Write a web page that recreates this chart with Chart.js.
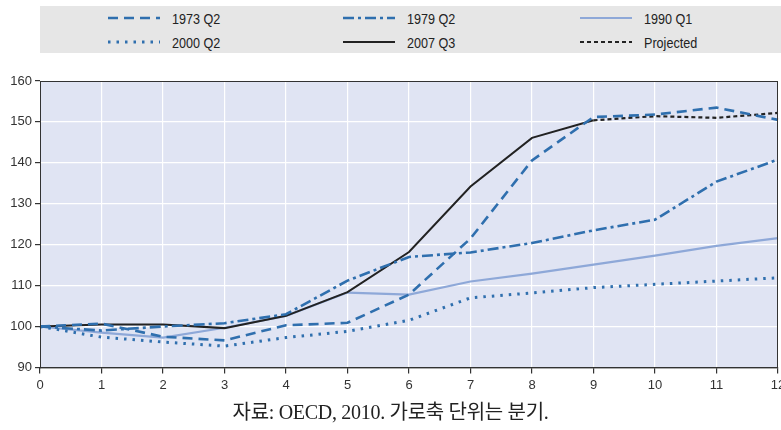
<!DOCTYPE html>
<html>
<head>
<meta charset="utf-8">
<script src="https://cdn.jsdelivr.net/npm/chart.js@4"></script>
<style>
  html, body { margin: 0; padding: 0; background: #fff; }
  #wrap { position: relative; width: 781px; height: 430px; }
  #chart { position: absolute; left: 0; top: 0; }
  #legend {
    position: absolute; left: 40px; top: 6px; width: 741px; height: 47px;
    background: #e6e6e6;
    font-family: "Liberation Sans", sans-serif;
    font-size: 15px; color: #222;
  }
  .item { position: absolute; display: flex; align-items: center; height: 18px; }
  .item svg { margin-right: 12px; }
  .item span { display: inline-block; transform: scaleX(0.84); transform-origin: left center; white-space: nowrap; }
  #caption {
    position: absolute; left: 0; width: 781px; top: 396px; text-align: center;
    font-family: "Liberation Serif", "Noto Sans CJK KR", serif;
    font-size: 20px; color: #222; letter-spacing: -0.3px;
  }
</style>
</head>
<body>
<div id="wrap">
  <canvas id="chart" width="781" height="430"></canvas>
  <div id="legend"></div>
  <div id="caption">자료: OECD, 2010. 가로축 단위는 분기.</div>
</div>
<script>
// quarters after the start of the recession
const quarters = ['0', '1', '2', '3', '4', '5', '6', '7', '8', '9', '10', '11', '12'];
const yTicks = [90, 100, 110, 120, 130, 140, 150, 160];

const s1973 = [100, 100.7, 97.5, 96.6, 100.3, 100.9, 107.8, 121.5, 140.6, 151.2, 151.8, 153.5, 150.5];
const s1979 = [100, 99, 100, 100.8, 103, 111.2, 117, 118.1, 120.4, 123.5, 126.1, 135.4, 140.8];
const s1990 = [100, 98.5, 97.3, 99.7, 102.6, 108.3, 107.8, 111, 112.9, 115.1, 117.3, 119.7, 121.6];
const s2000 = [100, 97.4, 96.2, 95.2, 97.3, 98.8, 101.5, 107, 108.2, 109.5, 110.3, 111.1, 111.9];
const s2007 = [100, 100.5, 100.5, 99.6, 102.6, 108.4, 118.2, 134.2, 146.1, 150.4, null, null, null];
const projected = [null, null, null, null, null, null, null, null, null, 150.4, 151.4, 151, 152.2];

const seriesNames = ['1973 Q2', '1979 Q2', '1990 Q1', '2000 Q2', '2007 Q3', 'Projected'];

const BLUE = '#2f6fae';
const styles = [
  { color: BLUE, width: 2.6, dash: [10, 6] },
  { color: BLUE, width: 2.6, dash: [11, 4, 3, 4] },
  { color: '#8ea8d8', width: 2.2, dash: [] },
  { color: BLUE, width: 3, dash: [2.5, 6] },
  { color: '#222222', width: 2, dash: [] },
  { color: '#222222', width: 2.2, dash: [4, 3] }
];
const allData = [s1973, s1979, s1990, s2000, s2007, projected];

const datasets = allData.map((d, i) => ({
  label: seriesNames[i],
  data: d,
  borderColor: styles[i].color,
  borderWidth: styles[i].width,
  borderDash: styles[i].dash,
  pointRadius: 0,
  fill: false,
  tension: 0,
  order: i === 2 ? 6 : i
}));

// legend, 3 columns x 2 rows
const legendPos = [[68, 3], [303, 3], [540, 3], [68, 27], [303, 27], [540, 27]];
const legend = document.getElementById('legend');
seriesNames.forEach((name, i) => {
  const st = styles[i];
  const div = document.createElement('div');
  div.className = 'item';
  div.style.left = legendPos[i][0] + 'px';
  div.style.top = legendPos[i][1] + 'px';
  div.innerHTML = '<svg width="52" height="8"><line x1="0" y1="4" x2="52" y2="4" stroke="' + st.color +
    '" stroke-width="' + st.width + '" stroke-dasharray="' + (st.dash.length ? st.dash.join(',') : 'none') +
    '"/></svg><span>' + name + '</span>';
  legend.appendChild(div);
});

const plotBg = {
  id: 'plotBg',
  beforeDraw(chart) {
    const { ctx, chartArea: a } = chart;
    ctx.save();
    ctx.fillStyle = '#e0e4f3';
    ctx.fillRect(a.left, a.top, a.right - a.left, a.bottom - a.top);
    ctx.restore();
  },
  afterDatasetsDraw(chart) {
    const { ctx, chartArea: a } = chart;
    ctx.save();
    ctx.strokeStyle = '#333';
    ctx.lineWidth = 1;
    ctx.strokeRect(a.left + 0.5, a.top + 0.5, a.right - a.left - 1, a.bottom - a.top);
    ctx.restore();
  }
};

const tickFont = { family: '"Liberation Sans", sans-serif', size: 13 };

new Chart(document.getElementById('chart'), {
  type: 'line',
  data: { labels: quarters, datasets: datasets },
  plugins: [plotBg],
  options: {
    responsive: false,
    animation: false,
    layout: { padding: { top: 81, right: 3, bottom: 33, left: 0 } },
    plugins: { legend: { display: false }, tooltip: { enabled: false } },
    scales: {
      x: {
        afterFit(scale) { scale.paddingRight = 0; },
        grid: { color: '#ffffff', lineWidth: 1.2, tickColor: '#333', tickLength: 6 },
        border: { color: '#333', width: 1 },
        ticks: { color: '#333', padding: 4, maxRotation: 0, font: tickFont }
      },
      y: {
        min: 90, max: 160,
        afterFit(scale) { scale.width = 40; },
        afterBuildTicks(scale) { scale.ticks = yTicks.map(v => ({ value: v })); },
        grid: { color: '#ffffff', lineWidth: 1.2, tickColor: '#333', tickLength: 5 },
        border: { color: '#333', width: 1 },
        ticks: { color: '#333', padding: 3, font: tickFont }
      }
    }
  }
});
</script>
</body>
</html>
